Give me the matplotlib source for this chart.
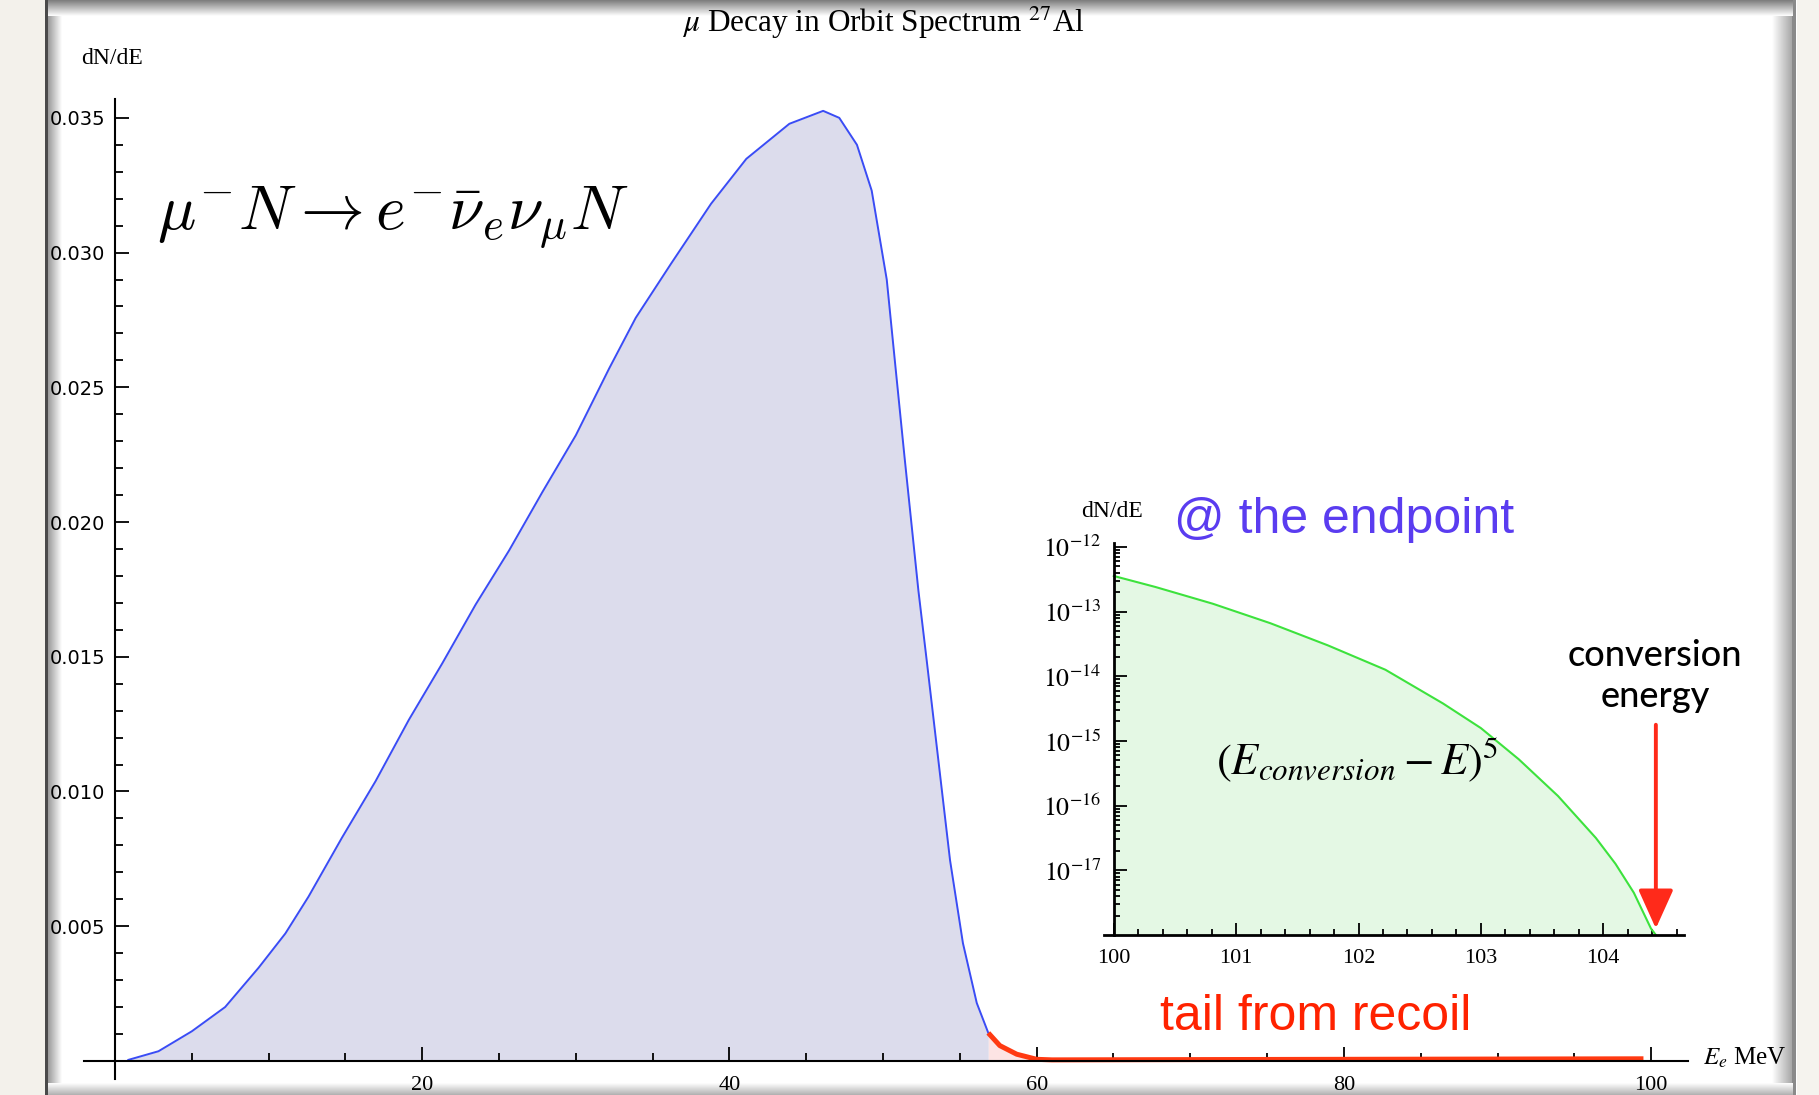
import numpy as np
import matplotlib
matplotlib.use("Agg")
import matplotlib.pyplot as plt
from matplotlib.ticker import MultipleLocator, FixedLocator, FuncFormatter, LogLocator, NullFormatter
from matplotlib.patches import Rectangle

# ---------------- data ----------------
spec_E = [0.87, 2.83, 5.0, 7.17, 9.35, 11.09, 12.6, 14.78, 16.96, 19.13, 21.3, 23.48, 25.65,
          27.83, 30.0, 32.17, 33.9, 36.2, 38.8, 41.1, 43.9, 46.1, 47.15, 48.3, 49.26, 50.24,
          50.8, 51.4, 52.3, 52.84, 53.6, 54.36, 55.2, 56.1, 56.85]
spec_dNdE = [0.00004, 0.00036, 0.0011, 0.0020, 0.00346, 0.00473, 0.0061, 0.00829, 0.01038,
             0.01266, 0.01475, 0.01694, 0.01894, 0.02112, 0.02322, 0.0257, 0.02758, 0.02959,
             0.03181, 0.03348, 0.03478, 0.03526, 0.0350, 0.0340, 0.0323, 0.0290, 0.0258,
             0.0224, 0.01746, 0.01487, 0.01116, 0.00745, 0.00437, 0.00215, 0.00104]
tail_E = [56.85, 57.6, 58.7, 60.0, 61.0, 70.0, 80.0, 90.0, 99.5]
tail_dNdE = [0.00104, 0.00057, 0.00025, 0.00006, 0.00004, 0.00005, 0.00006, 0.00007, 0.00008]

end_E = [100.0, 100.34, 100.81, 101.28, 101.75, 102.22, 102.69, 103.0, 103.31, 103.63,
         103.94, 104.1, 104.25, 104.39, 104.43]
end_dNdE = [3.55e-13, 2.4e-13, 1.32e-13, 6.6e-14, 3.0e-14, 1.26e-14, 3.8e-15, 1.58e-15,
            5.2e-16, 1.41e-16, 3.16e-17, 1.26e-17, 4.5e-18, 1.26e-18, 1.0e-18]

main_yticks = [0.005, 0.010, 0.015, 0.020, 0.025, 0.030, 0.035]
main_xticks = [20, 40, 60, 80, 100]
inset_xticks = [100, 101, 102, 103, 104]
inset_yticks = [1e-17, 1e-16, 1e-15, 1e-14, 1e-13, 1e-12]
conversion_E = 104.43

# ---------------- figure ----------------
W, H = 1819, 1095
plt.rcParams['mathtext.fontset'] = 'stix'
fig = plt.figure(figsize=(W / 100, H / 100), dpi=100)
fig.patch.set_facecolor('white')

def fx(px):
    return px / W

def fy(py):
    return 1 - py / H

# slide-frame background
bg = fig.add_axes([0, 0, 1, 1], zorder=-10)
bg.axis('off')
bg.add_patch(Rectangle((0, 0), 46, H, color='#f3f1eb', lw=0))
bg.add_patch(Rectangle((1797, 0), W - 1797, H, color='#f5f3ee', lw=0))
bg.add_patch(Rectangle((45, 0), 3, H, color='#4a4a4a', lw=0))
bg.add_patch(Rectangle((1792, 0), 4, H, color='#8a8a8a', lw=0))

def grad(x0, x1, y0, y1, c0, c1, horizontal):
    n = 64
    t = np.linspace(0, 1, n)
    c0 = np.array(matplotlib.colors.to_rgb(c0))
    c1 = np.array(matplotlib.colors.to_rgb(c1))
    cols = c0[None, :] * (1 - t[:, None]) + c1[None, :] * t[:, None]
    img = cols[None, :, :] if horizontal else cols[:, None, :]
    bg.imshow(img, extent=(x0, x1, y1, y0), aspect='auto', interpolation='bilinear', zorder=1)

grad(48, 62, 0, H, '#9a9a9a', '#ffffff', True)
grad(1772, 1792, 0, H, '#ffffff', '#a8a8a8', True)
grad(48, 1792, 0, 16, '#7c7c7c', '#ffffff', False)
grad(48, 1792, 1083, 1095, '#ffffff', '#b0b0b0', False)
bg.set_xlim(0, W)
bg.set_ylim(H, 0)

# ---------------- main axes ----------------
ax = fig.add_axes([fx(83.5), fy(1079), fx(1688) - fx(83.5), fy(99) - fy(1079)])
ax.set_facecolor('none')
ax.set_xlim(-2.05, 102.4)
ax.set_ylim(-0.00067, 0.0357)

ax.fill_between(spec_E, spec_dNdE, 0, color='#dcdcec', lw=0, zorder=1)
ax.plot(spec_E, spec_dNdE, color='#3a4cf5', lw=1.4, zorder=3, solid_joinstyle='round')
ax.fill_between(tail_E[:5], tail_dNdE[:5], 0, color='#fde4e4', lw=0, zorder=1)
ax.plot(tail_E, tail_dNdE, color='#ff3a12', lw=3.6, solid_capstyle='butt', zorder=4)

for s in ['top', 'right']:
    ax.spines[s].set_visible(False)
ax.spines['left'].set_position(('data', 0))
ax.spines['bottom'].set_position(('data', 0))
for s in ['left', 'bottom']:
    ax.spines[s].set_linewidth(1.5)
    ax.spines[s].set_zorder(5)

ax.yaxis.set_major_locator(FixedLocator(main_yticks))
ax.yaxis.set_minor_locator(MultipleLocator(0.001))
ax.yaxis.set_major_formatter(FuncFormatter(lambda v, p: f"{v:.3f}"))
ax.xaxis.set_major_locator(FixedLocator(main_xticks))
ax.xaxis.set_minor_locator(FixedLocator([v for v in range(5, 101, 5) if v % 20 != 0]))
ax.tick_params(which='both', direction='in', width=1.3, color='black')
ax.tick_params(which='major', length=10)
ax.tick_params(which='minor', length=6)
ax.tick_params(axis='y', which='major', pad=7, labelsize=14, labelfontfamily='DejaVu Sans')
ax.tick_params(axis='x', which='major', pad=11, labelsize=16, labelfontfamily='Liberation Serif')

# ---------------- inset ----------------
ax2 = fig.add_axes([fx(1104), fy(935), fx(1684) - fx(1104), fy(543) - fy(935)])
ax2.set_facecolor('none')
ax2.set_yscale('log')
ax2.set_xlim(99.92, 104.66)
ax2.set_ylim(10 ** -18.0, 10 ** -11.94)
ax2.fill_between(end_E, end_dNdE, 1e-18, color='#e4f8e4', lw=0, zorder=1)
ax2.plot(end_E, end_dNdE, color='#3de23d', lw=1.5, zorder=3, solid_joinstyle='round')

for s in ['top', 'right']:
    ax2.spines[s].set_visible(False)
ax2.spines['left'].set_position(('data', 100))
for s in ['left', 'bottom']:
    ax2.spines[s].set_linewidth(2.0)
    ax2.spines[s].set_zorder(5)

ax2.xaxis.set_major_locator(FixedLocator(inset_xticks))
ax2.xaxis.set_minor_locator(MultipleLocator(0.2))
ax2.yaxis.set_major_locator(FixedLocator(inset_yticks))
ax2.yaxis.set_minor_locator(LogLocator(base=10, subs=np.arange(2, 10), numticks=30))
ax2.yaxis.set_minor_formatter(NullFormatter())
ax2.yaxis.set_major_formatter(FuncFormatter(lambda v, p: r"$10^{%d}$" % round(np.log10(v))))
ax2.xaxis.set_major_formatter(FuncFormatter(lambda v, p: f"{v:.0f}"))
ax2.tick_params(which='both', direction='in', width=1.3, color='black')
ax2.tick_params(which='major', length=9)
ax2.tick_params(which='minor', length=4.5)
ax2.tick_params(axis='y', which='major', pad=9, labelsize=18.5, labelfontfamily='Liberation Serif')
ax2.tick_params(axis='x', which='major', pad=10, labelsize=16, labelfontfamily='Liberation Serif')

ax2.annotate('', xy=(conversion_E, 10 ** -17.9), xytext=(conversion_E, 10 ** -14.75),
             arrowprops=dict(arrowstyle='-|>,head_length=1.0,head_width=0.45',
                             color='#ff2a1a', lw=2.8, mutation_scale=24, shrinkA=0, shrinkB=0),
             zorder=6)

# ---------------- texts ----------------
fig.text(fx(682), fy(23), r"$\mu$ Decay in Orbit Spectrum $^{27}$Al", fontsize=22.5,
         family='Liberation Serif', ha='left', va='center')
fig.text(fx(81), fy(58), "dN/dE", fontsize=17, family='Liberation Serif', ha='left', va='center')
fig.text(fx(1081), fy(512), "dN/dE", fontsize=17, family='Liberation Serif', ha='left', va='center')
fig.text(fx(1703), fy(1058), r"$E_e$ MeV", fontsize=18, family='Liberation Serif',
         ha='left', va='center')
fig.text(fx(157), fy(218), r"$\mu^{-}N \rightarrow e^{-}\bar{\nu}_e\nu_\mu N$", fontsize=46,
         math_fontfamily='cm', ha='left', va='center')
fig.text(fx(1174), fy(520), "@ the endpoint", fontsize=36, family='Liberation Sans',
         color='#5a3cf0', ha='left', va='center')
fig.text(fx(1160), fy(1017), "tail from recoil", fontsize=36, family='Liberation Sans',
         color='#ff2200', ha='left', va='center')
fig.text(fx(1655), fy(676), "conversion\nenergy", fontsize=26, family='Lato', weight='medium',
         ha='center', va='center', linespacing=1.28)
fig.text(fx(1216), fy(760), r"$(E_{conversion} - E)^5$", fontsize=32,
         ha='left', va='center', math_fontfamily='stix')

fig.savefig("out.png", dpi=100)
